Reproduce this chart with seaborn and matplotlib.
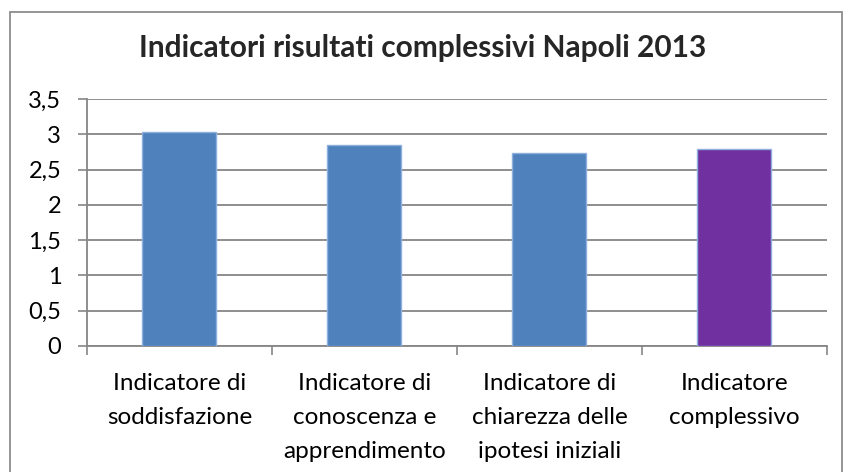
import matplotlib
matplotlib.use("Agg")
import matplotlib.pyplot as plt
import seaborn as sns
import pandas as pd
from matplotlib.patches import Rectangle

# dati
categorie = ["Indicatore di\nsoddisfazione",
             "Indicatore di\nconoscenza e\napprendimento",
             "Indicatore di\nchiarezza delle\nipotesi iniziali",
             "Indicatore\ncomplessivo"]
valori = [3.03, 2.85, 2.74, 2.79]
colori = ["#4F81BD", "#4F81BD", "#4F81BD", "#7030A0"]
yticks = [0, 0.5, 1, 1.5, 2, 2.5, 3, 3.5]
ytick_labels = ["0", "0,5", "1", "1,5", "2", "2,5", "3", "3,5"]

df = pd.DataFrame({"categoria": categorie, "valore": valori})

sns.set_style("white")
plt.rcParams["font.family"] = ["Lato", "DejaVu Sans"]

fig = plt.figure(figsize=(8.46, 4.72), dpi=100)
ax = fig.add_axes([0.1028, 0.267, 0.8747, 0.523])

sns.barplot(data=df, x="categoria", y="valore", hue="categoria",
            palette=colori, saturation=1, legend=False, width=0.4,
            edgecolor="#8DB0DC", linewidth=1.0, ax=ax, zorder=3)

ax.set_ylim(0, 3.5)
ax.set_xlim(-0.5, 3.5)
ax.set_yticks(yticks)
ax.set_yticklabels(ytick_labels, fontsize=17, color="black")
ax.tick_params(axis="x", labelsize=17.5, colors="black", length=0, pad=19.5)
ax.tick_params(axis="y", length=6.5, width=1.2, color="#868686", pad=12, left=True)
for lbl in ax.get_xticklabels():
    lbl.set_linespacing(1.77)

# tacche asse x tra le categorie
ax.set_xticks([-0.5, 0.5, 1.5, 2.5, 3.5], minor=True)
ax.tick_params(axis="x", which="minor", length=6.5, width=1.2, color="#868686", bottom=True)

ax.grid(axis="y", color="#868686", linewidth=1.3, zorder=0)
ax.set_axisbelow(True)
for s in ["top", "right"]:
    ax.spines[s].set_visible(False)
for s in ["left", "bottom"]:
    ax.spines[s].set_color("#868686")
    ax.spines[s].set_linewidth(1.3)
ax.set_xlabel("")
ax.set_ylabel("")

fig.text(0.5, 1 - 57 / 472, "Indicatori risultati complessivi Napoli 2013",
         ha="center", va="baseline", fontsize=21.5, fontweight="bold")

# bordo dell'area grafico
fig.patches.append(Rectangle((10 / 846, -0.05), 832 / 846, 1.05 - 12 / 472,
                             transform=fig.transFigure, fill=False,
                             edgecolor="#8C8C8C", linewidth=1.3))

fig.savefig("out.png", dpi=100)
